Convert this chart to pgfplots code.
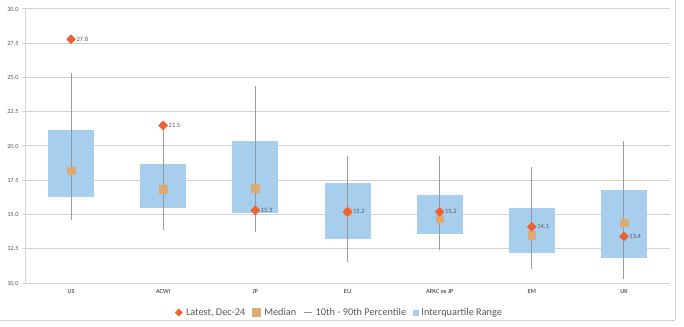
\documentclass[border=0pt]{standalone}
\usepackage{pgfplots}
\usepackage{pgfplotstable}
\pgfplotsset{compat=1.18}
\usepackage{fontspec}
\setmainfont{Carlito}
\definecolor{boxblue}{RGB}{168,206,238}
\definecolor{latestc}{RGB}{236,98,48}
\definecolor{medc}{RGB}{221,170,115}
\definecolor{whisk}{RGB}{145,145,145}
\definecolor{gridc}{RGB}{210,210,210}
\definecolor{txtc}{RGB}{89,89,89}

\pgfplotstableread{
x lo q1 med q3 hi latest
0 14.6 16.3 18.2 21.2 25.3 27.8
1 13.9 15.5 16.85 18.7 21.3 21.5
2 13.7 15.1 16.9 20.4 24.35 15.3
3 11.55 13.2 15.2 17.3 19.3 15.2
4 12.4 13.6 14.7 16.4 19.3 15.2
5 11.05 12.2 13.5 15.5 18.5 14.1
6 10.3 11.8 14.4 16.8 20.4 13.4
}\datatable

\begin{document}
\begin{tikzpicture}
\useasboundingbox (0pt,0pt) rectangle (684pt,326pt);
\fill[white] (0pt,0pt) rectangle (684pt,326pt);
\draw[gridc, line width=0.9pt] (0pt,6pt) -- (675pt,6pt);
\draw[gridc, line width=0.9pt] (675pt,6pt) -- (675pt,326pt);
\begin{axis}[
  at={(25pt,43pt)}, anchor=south west,
  scale only axis, width=645pt, height=274pt,
  xmin=-0.5, xmax=6.5, ymin=10, ymax=30,
  axis lines*=left,
  axis line style={-, draw=gridc, line width=1pt},
  ytick={10,12.5,...,30},
  ymajorgrids, grid style={gridc, line width=1pt},
  yticklabel style={font=\fontsize{6.3}{7}\selectfont, text=txtc},
  y tick label style={/pgf/number format/.cd, fixed, fixed zerofill, precision=1, assume math mode=true},
  ytick style={draw=gridc, line width=1pt},
  major tick length=3pt,
  tick align=outside,
  xtick={0,...,6},
  xticklabels={US, ACWI, JP, EU, APAC ex JP, EM, UK},
  xticklabel style={font=\fontsize{6.3}{7}\selectfont, text=black!85},
  x tick style={draw=none},
  extra x ticks={0.5,1.5,...,5.5},
  extra x tick labels={},
  extra x tick style={grid=none, tick style={draw=gridc, line width=1pt}},
  clip=false,
  legend columns=4,
  legend style={at={(0.5,0)}, anchor=center, xshift=-8pt, yshift=-29.5pt,
    draw=none, fill=none, font=\fontsize{10.3}{12}\selectfont, text=txtc,
    inner sep=0pt,
    /tikz/every odd column/.append style={column sep=1.5pt},
    /tikz/every even column/.append style={column sep=5pt}},
  legend cell align=left,
]
% interquartile boxes
\addplot[forget plot, draw=none, mark=none,
  error bars/.cd, y dir=plus, y explicit, error mark=none,
  error bar style={line width=46pt, boxblue}]
  table[x=x, y=q1, y error expr=\thisrow{q3}-\thisrow{q1}] {\datatable};
% whiskers
\addplot[forget plot, draw=none, mark=none,
  error bars/.cd, y dir=plus, y explicit, error mark=none,
  error bar style={line width=1.1pt, whisk, opacity=0.9}]
  table[x=x, y=lo, y error expr=\thisrow{hi}-\thisrow{lo}] {\datatable};
% medians
\addplot[forget plot, only marks, mark=square*, mark size=3.8pt, color=medc]
  table[x=x, y=med] {\datatable};
% latest
\addplot[forget plot, only marks, mark=square*, mark size=3.2pt,
  mark options={rotate=45}, color=latestc,
  nodes near coords={\pgfmathprintnumber[fixed, fixed zerofill, precision=1, assume math mode=true]{\pgfplotspointmeta}},
  point meta=y,
  nodes near coords style={anchor=west, xshift=2pt, font=\fontsize{6.5}{7}\selectfont, text=txtc}]
  table[x=x, y=latest] {\datatable};
\addlegendimage{legend image code/.code={\fill[latestc] (0pt,0pt) -- (3.6pt,3.6pt) -- (7.2pt,0pt) -- (3.6pt,-3.6pt) -- cycle;}}
\addlegendentry{Latest, Dec-24}
\addlegendimage{legend image code/.code={\fill[medc] (0pt,-4pt) rectangle (8pt,4pt);}}
\addlegendentry{Median}
\addlegendimage{legend image code/.code={\draw[whisk, line width=0.9pt] (0pt,0pt) -- (8pt,0pt);}}
\addlegendentry{10th - 90th Percentile}
\addlegendimage{legend image code/.code={\fill[boxblue] (0pt,-2.2pt) rectangle (4.4pt,2.2pt);}}
\addlegendentry{Interquartile Range}
\end{axis}
\end{tikzpicture}
\end{document}
